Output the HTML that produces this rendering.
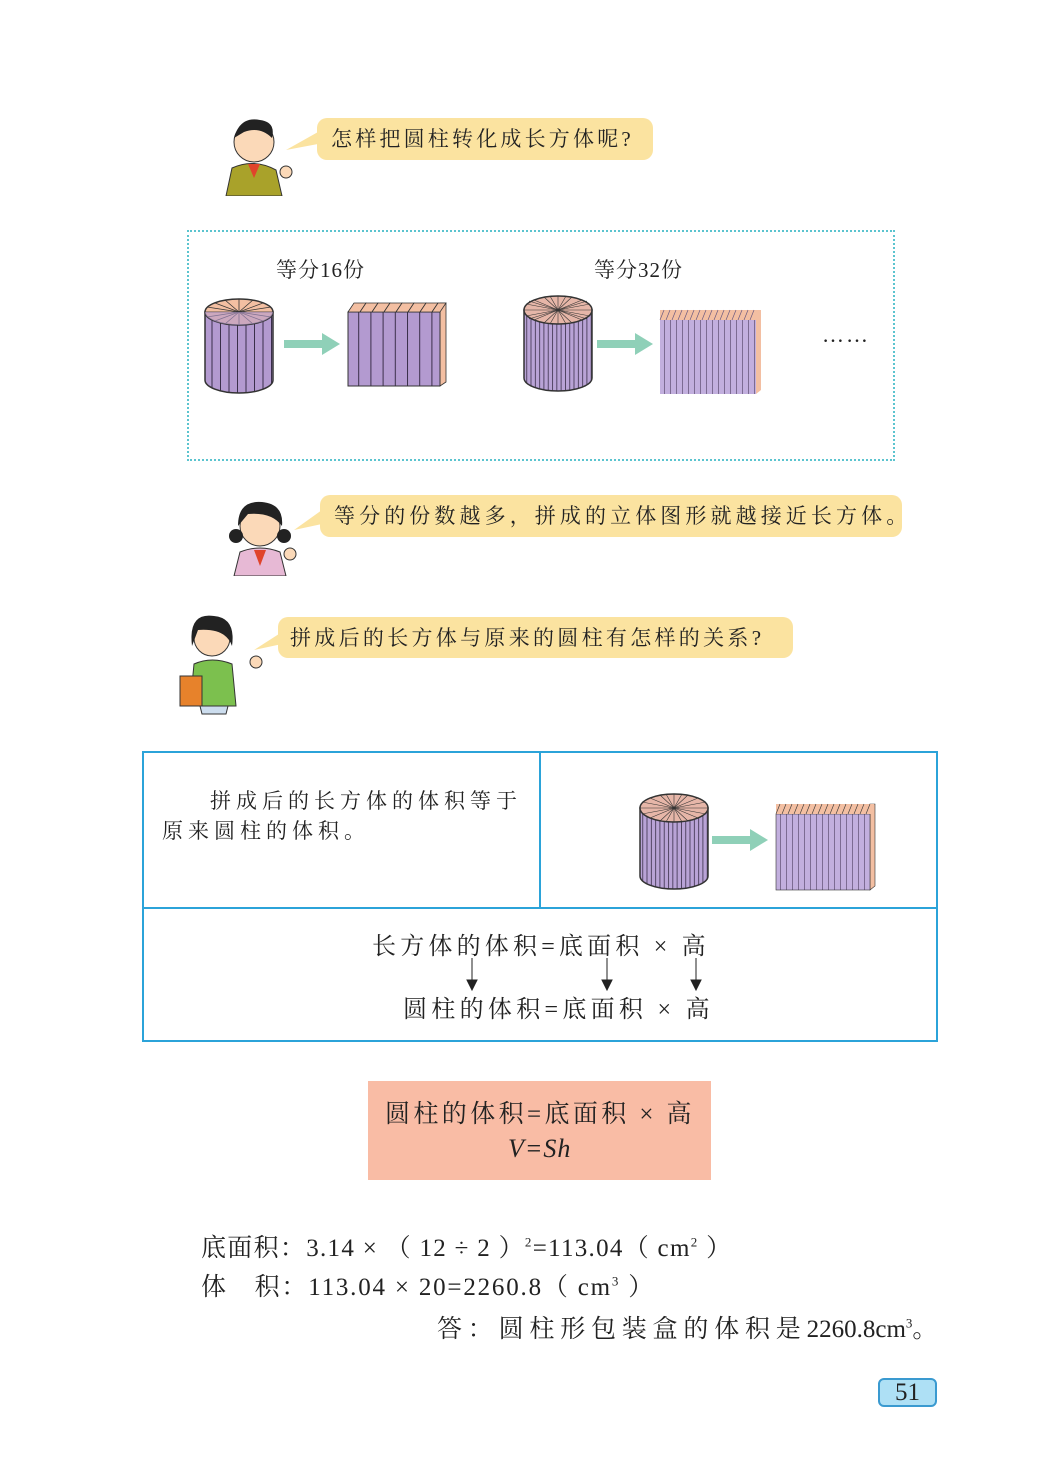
<!DOCTYPE html>
<html><head><meta charset="utf-8"><style>
body{margin:0;width:1048px;height:1474px;background:#fff;position:relative;overflow:hidden;font-family:"Liberation Serif","Noto Serif CJK SC",serif;color:#222}
.a{position:absolute}
.bub{position:absolute;background:#fbe3a0;border-radius:10px;font-size:21px;line-height:42px;padding-left:14px;box-sizing:border-box;white-space:nowrap}
.t{position:absolute;font-size:23px;white-space:nowrap;letter-spacing:1px}
</style></head><body>
<svg width="0" height="0" style="position:absolute"><defs>
<pattern id="s1" width="8.5" height="10" patternUnits="userSpaceOnUse"><rect width="8.5" height="10" fill="#b39ad0"/><rect width="1" height="10" fill="#3a2f4a"/></pattern>
<pattern id="s2" width="4.3" height="10" patternUnits="userSpaceOnUse"><rect width="4.3" height="10" fill="#b9a3d6"/><rect width="0.8" height="10" fill="#3a2f4a"/></pattern>
<pattern id="r1" width="12.2" height="10" patternUnits="userSpaceOnUse"><rect width="12.2" height="10" fill="#b39ad0"/><rect width="1" height="10" fill="#3a2f4a"/></pattern>
<pattern id="r2" width="6" height="10" patternUnits="userSpaceOnUse"><rect width="6" height="10" fill="#c2afde"/><rect width="0.8" height="10" fill="#6a5a80"/></pattern>
</defs></svg>

<!-- boy -->
<svg class="a" style="left:220px;top:112px" width="80" height="84">
<circle cx="34" cy="30" r="20" fill="#fbd9b8" stroke="#333"/><path d="M14 26 Q20 4 40 8 Q56 10 52 26 Q40 14 24 20Z" fill="#222"/>
<path d="M6 84 L12 56 Q34 46 56 58 L62 84Z" fill="#a9a22a" stroke="#333"/><path d="M28 52 L40 52 L34 66Z" fill="#e0442b"/>
<circle cx="66" cy="60" r="6" fill="#fbd9b8" stroke="#333"/></svg>
<div class="bub" style="left:317px;top:118px;width:336px;height:42px;letter-spacing:3.2px">怎样把圆柱转化成长方体呢?</div>
<svg class="a" style="left:286px;top:130px" width="34" height="24"><path d="M32 2 L0 20 L32 14Z" fill="#fbe3a0"/></svg>

<!-- dashed box -->
<div class="a" style="left:187px;top:230px;width:704px;height:227px;border:2px dotted #5bc4cf"></div>
<div class="t" style="left:276px;top:254px;font-size:21px">等分16份</div>
<div class="t" style="left:594px;top:254px;font-size:21px">等分32份</div>

<!-- cylinder 1 -->
<svg class="a" style="left:203px;top:296px" width="72" height="100">
<path d="M2 16 L2 84 A34 13 0 0 0 70 84 L70 16Z" fill="url(#s1)" stroke="#333" stroke-width="1.5"/>
<ellipse cx="36" cy="16" rx="34" ry="13" fill="#f3bfa2" stroke="#333" stroke-width="1.5"/>
<g stroke="#333" stroke-width="0.8"><line x1="2" y1="16" x2="70" y2="16"/><line x1="36" y1="3" x2="36" y2="29"/><line x1="12" y1="7" x2="60" y2="25"/><line x1="12" y1="25" x2="60" y2="7"/><line x1="22" y1="4" x2="50" y2="28"/><line x1="22" y1="28" x2="50" y2="4"/><line x1="4" y1="11" x2="68" y2="21"/><line x1="4" y1="21" x2="68" y2="11"/></g>
<path d="M2 16 A34 13 0 0 0 70 16" fill="#b39ad0" fill-opacity="0.6"/></svg>
<svg class="a" style="left:284px;top:333px" width="58" height="22"><rect x="0" y="7" width="40" height="8" fill="#8fd0b8"/><path d="M38 0 L56 11 L38 22Z" fill="#8fd0b8"/></svg>
<svg class="a" style="left:346px;top:300px" width="104" height="90">
<path d="M94 3 L100 3 L100 82 L94 86Z" fill="#f3bfa2" stroke="#333" stroke-width="0.8"/>
<rect x="2" y="12" width="92" height="74" fill="url(#r1)" stroke="#333" stroke-width="1"/>
<g fill="#f3bfa2" stroke="#333" stroke-width="0.8"><path d="M2 12 L8 3 L20 3 L14 12Z"/><path d="M14 12 L20 3 L32 3 L26 12Z"/><path d="M26 12 L32 3 L44 3 L38 12Z"/><path d="M38 12 L44 3 L56 3 L50 12Z"/><path d="M50 12 L56 3 L68 3 L62 12Z"/><path d="M62 12 L68 3 L80 3 L74 12Z"/><path d="M74 12 L80 3 L92 3 L86 12Z"/><path d="M86 12 L92 3 L100 3 L94 12Z"/></g></svg>

<!-- cylinder 2 -->
<svg class="a" style="left:522px;top:292px" width="72" height="104">
<path d="M2 18 L2 86 A34 13 0 0 0 70 86 L70 18Z" fill="url(#s2)" stroke="#333" stroke-width="1.5"/>
<ellipse cx="36" cy="18" rx="34" ry="14" fill="#e6b6a8" stroke="#333" stroke-width="1.5"/>
<g stroke="#333" stroke-width="0.6"><line x1="2" y1="18" x2="70" y2="18"/><line x1="36" y1="4" x2="36" y2="32"/><line x1="12" y1="8" x2="60" y2="28"/><line x1="12" y1="28" x2="60" y2="8"/><line x1="22" y1="5" x2="50" y2="31"/><line x1="22" y1="31" x2="50" y2="5"/><line x1="4" y1="12" x2="68" y2="24"/><line x1="4" y1="24" x2="68" y2="12"/><line x1="28" y1="4" x2="44" y2="32"/><line x1="44" y1="4" x2="28" y2="32"/><line x1="7" y1="9" x2="65" y2="27"/><line x1="7" y1="27" x2="65" y2="9"/></g></svg>
<svg class="a" style="left:597px;top:333px" width="58" height="22"><rect x="0" y="7" width="40" height="8" fill="#8fd0b8"/><path d="M38 0 L56 11 L38 22Z" fill="#8fd0b8"/></svg>
<svg class="a" style="left:658px;top:306px" width="106" height="90">
<path d="M98 4 L103 4 L103 84 L98 88Z" fill="#f3bfa2"/>
<rect x="2" y="14" width="96" height="74" fill="url(#r2)"/>
<rect x="2" y="4" width="98" height="10" fill="#f3bfa2"/>
<g stroke="#6a5a80" stroke-width="0.7"><path d="M2 14 L6 4 M8 14 L12 4 M14 14 L18 4 M20 14 L24 4 M26 14 L30 4 M32 14 L36 4 M38 14 L42 4 M44 14 L48 4 M50 14 L54 4 M56 14 L60 4 M62 14 L66 4 M68 14 L72 4 M74 14 L78 4 M80 14 L84 4 M86 14 L90 4 M92 14 L96 4"/></g></svg>
<div class="t" style="left:822px;top:322px;font-size:22px;letter-spacing:2px">……</div>

<!-- girl -->
<svg class="a" style="left:224px;top:492px" width="80" height="84">
<circle cx="36" cy="34" r="20" fill="#fbd9b8" stroke="#333"/><path d="M14 34 Q14 8 38 10 Q60 12 58 34 Q48 20 24 22Z" fill="#222"/>
<circle cx="12" cy="44" r="7" fill="#222"/><circle cx="60" cy="44" r="7" fill="#222"/>
<path d="M10 84 L16 60 Q36 52 56 60 L62 84Z" fill="#e7b9d5" stroke="#333"/><path d="M30 58 L42 58 L36 74Z" fill="#e0442b"/>
<circle cx="66" cy="62" r="6" fill="#fbd9b8" stroke="#333"/></svg>
<div class="bub" style="left:320px;top:495px;width:582px;height:42px;letter-spacing:4.1px">等分的份数越多，拼成的立体图形就越接近长方体。</div>
<svg class="a" style="left:294px;top:508px" width="30" height="24"><path d="M28 2 L0 22 L28 16Z" fill="#fbe3a0"/></svg>

<!-- teacher -->
<svg class="a" style="left:176px;top:606px" width="90" height="110">
<circle cx="36" cy="32" r="18" fill="#fbd9b8" stroke="#333"/><path d="M16 40 Q12 6 38 10 Q60 12 56 40 Q50 22 22 24Z" fill="#222"/>
<path d="M14 100 L18 58 Q36 50 56 58 L60 100Z" fill="#7cc04e" stroke="#333"/><rect x="4" y="70" width="22" height="30" fill="#e7822b" stroke="#333"/>
<path d="M24 100 L26 108 L50 108 L52 100Z" fill="#cde" stroke="#333"/><circle cx="80" cy="56" r="6" fill="#fbd9b8" stroke="#333"/></svg>
<div class="bub" style="left:278px;top:617px;width:515px;height:41px;padding-left:12px;letter-spacing:3.3px">拼成后的长方体与原来的圆柱有怎样的关系?</div>
<svg class="a" style="left:254px;top:630px" width="30" height="24"><path d="M28 2 L0 20 L28 14Z" fill="#fbe3a0"/></svg>

<!-- table -->
<div class="a" style="left:142px;top:751px;width:796px;height:291px;border:2px solid #2ba3d9;box-sizing:border-box"></div>
<div class="a" style="left:142px;top:907px;width:796px;height:2px;background:#2ba3d9"></div>
<div class="a" style="left:539px;top:751px;width:2px;height:157px;background:#2ba3d9"></div>
<div class="t" style="left:210px;top:785px;font-size:21px;letter-spacing:5px">拼成后的长方体的体积等于</div>
<div class="t" style="left:162px;top:815px;font-size:21px;letter-spacing:5px">原来圆柱的体积。</div>

<svg class="a" style="left:638px;top:790px" width="72" height="104">
<path d="M2 18 L2 86 A34 13 0 0 0 70 86 L70 18Z" fill="url(#s2)" stroke="#333" stroke-width="1.5"/>
<ellipse cx="36" cy="18" rx="34" ry="14" fill="#e6b6a8" stroke="#333" stroke-width="1.5"/>
<g stroke="#333" stroke-width="0.6"><line x1="2" y1="18" x2="70" y2="18"/><line x1="36" y1="4" x2="36" y2="32"/><line x1="12" y1="8" x2="60" y2="28"/><line x1="12" y1="28" x2="60" y2="8"/><line x1="22" y1="5" x2="50" y2="31"/><line x1="22" y1="31" x2="50" y2="5"/><line x1="4" y1="12" x2="68" y2="24"/><line x1="4" y1="24" x2="68" y2="12"/><line x1="28" y1="4" x2="44" y2="32"/><line x1="44" y1="4" x2="28" y2="32"/></g></svg>
<svg class="a" style="left:712px;top:829px" width="58" height="22"><rect x="0" y="7" width="40" height="8" fill="#8fd0b8"/><path d="M38 0 L56 11 L38 22Z" fill="#8fd0b8"/></svg>
<svg class="a" style="left:774px;top:800px" width="106" height="92">
<path d="M96 4 L101 4 L101 86 L96 90Z" fill="#f3bfa2" stroke="#333" stroke-width="0.6"/>
<rect x="2" y="14" width="94" height="76" fill="url(#r2)" stroke="#333" stroke-width="0.6"/>
<rect x="2" y="4" width="98" height="10" fill="#f3bfa2"/>
<g stroke="#333" stroke-width="0.6"><path d="M2 14 L6 4 M8 14 L12 4 M14 14 L18 4 M20 14 L24 4 M26 14 L30 4 M32 14 L36 4 M38 14 L42 4 M44 14 L48 4 M50 14 L54 4 M56 14 L60 4 M62 14 L66 4 M68 14 L72 4 M74 14 L78 4 M80 14 L84 4 M86 14 L90 4 M92 14 L96 4"/></g></svg>

<div class="t" style="left:372px;top:926px;font-size:24px;letter-spacing:4.2px">长方体的体积=底面积 × 高</div>
<div class="t" style="left:403px;top:989px;font-size:24px;letter-spacing:4.3px">圆柱的体积=底面积 × 高</div>
<svg class="a" style="left:460px;top:958px" width="250" height="34" stroke="#222" fill="#222">
<line x1="12" y1="0" x2="12" y2="24"/><path d="M7 22 L17 22 L12 32Z"/>
<line x1="147" y1="0" x2="147" y2="24"/><path d="M142 22 L152 22 L147 32Z"/>
<line x1="236" y1="0" x2="236" y2="24"/><path d="M231 22 L241 22 L236 32Z"/></svg>

<!-- formula box -->
<div class="a" style="left:368px;top:1081px;width:343px;height:99px;background:#f9bca5"></div>
<div class="t" style="left:385px;top:1094px;font-size:25px;letter-spacing:3.4px">圆柱的体积=底面积 × 高</div>
<div class="t" style="left:508px;top:1134px;font-size:26px;font-style:italic">V=Sh</div>

<!-- calculations -->
<div class="t" style="left:201px;top:1228px;font-size:25px;letter-spacing:1.3px">底面积：3.14 × （ 12 ÷ 2 ）<sup style="font-size:13px">2</sup>=113.04（ cm<sup style="font-size:13px">2</sup> ）</div>
<div class="t" style="left:201px;top:1267px;font-size:25px;letter-spacing:1.8px">体　积：113.04 × 20=2260.8（ cm<sup style="font-size:13px">3</sup> ）</div>
<div class="t" style="left:437px;top:1309px;font-size:25px;letter-spacing:5.8px">答：圆柱形包装盒的体积是<span style="letter-spacing:0">2260.8cm<sup style="font-size:13px">3</sup></span>。</div>

<div class="a" style="left:878px;top:1378px;width:59px;height:29px;background:#aee0f5;border:2px solid #3a9ad0;border-radius:6px;box-sizing:border-box;text-align:center;font-size:25px;line-height:26px">51</div>
</body></html>
